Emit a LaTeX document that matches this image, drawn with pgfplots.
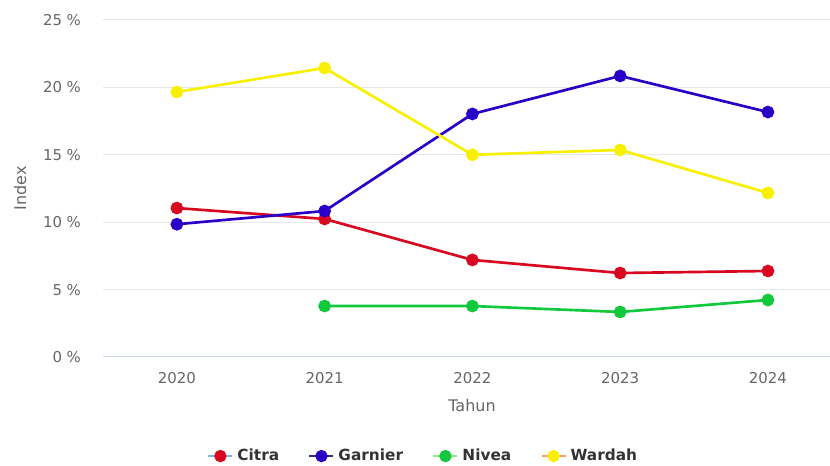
\documentclass[border=0pt]{standalone}
\usepackage{fontspec}
\setmainfont{DejaVu Sans}
\usepackage{pgfplots}
\pgfplotsset{compat=1.18}

\definecolor{citra}{HTML}{D7081F}
\definecolor{garnier}{HTML}{2A00C8}
\definecolor{nivea}{HTML}{12C83C}
\definecolor{wardah}{HTML}{F8F000}
\definecolor{lgcitra}{HTML}{7CB5EC}
\definecolor{lggarnier}{HTML}{2F2A80}
\definecolor{lgnivea}{HTML}{90ED7D}
\definecolor{lgwardah}{HTML}{F7A35C}
\definecolor{gridc}{HTML}{E6E6E6}
\definecolor{axisc}{HTML}{CCD6EB}
\definecolor{labc}{HTML}{666666}
\definecolor{legc}{HTML}{333333}

% 1 px = 0.75 pt
\newcommand{\legimg}[2]{%
  \draw[#1, line width=1.5pt] (0pt,0pt) -- (18pt,0pt);
  \fill[#2] (9pt,0pt) circle (3.6pt);}

\begin{document}
\begin{tikzpicture}
\begin{axis}[
  scale only axis,
  width=545.25pt, height=252.75pt,
  xmin=2019.5, xmax=2024.42,
  ymin=0, ymax=25,
  axis line style={draw=none},
  ymajorgrids, grid style={gridc, line width=0.75pt},
  xtick={2020,2021,2022,2023,2024},
  xticklabels={2020,2021,2022,2023,2024},
  ytick={0,5,10,15,20,25},
  yticklabels={0 \%,5 \%,10 \%,15 \%,20 \%,25 \%},
  major tick length=0pt,
  tick label style={font=\fontsize{11.2pt}{13pt}\selectfont, text=labc},
  xticklabel style={yshift=-8pt},
  yticklabel style={xshift=-13pt},
  xlabel={Tahun}, ylabel={Index},
  label style={font=\fontsize{12pt}{14pt}\selectfont, text=labc},
  xlabel style={at={(rel axis cs:0.5076,-0.145)}, anchor=center},
  ylabel style={at={(rel axis cs:-0.114,0.5)}, anchor=center},
  legend columns=4,
  legend style={at={(rel axis cs:0.441,-0.294)}, anchor=center, draw=none,
    fill=none, font=\bfseries\fontsize{11.5pt}{14pt}\selectfont, text=legc,
    /tikz/every odd column/.append style={column sep=1pt},
    /tikz/every even column/.append style={column sep=20pt}},
  every axis plot/.append style={line width=2pt, mark=*, mark size=3.75pt},
]
\draw[axisc, line width=0.75pt] (rel axis cs:0,0) -- (rel axis cs:1,0);
\coordinate (sw) at (rel axis cs:0,0);
\coordinate (ne) at (rel axis cs:1,1);

\addplot[citra, mark options={fill=citra}, legend image code/.code={\legimg{lgcitra}{citra}}]
  coordinates {(2020,11.05) (2021,10.24) (2022,7.2) (2023,6.23) (2024,6.38)};
\addlegendentry{Citra}
\addplot[garnier, mark options={fill=garnier}, legend image code/.code={\legimg{lggarnier}{garnier}}]
  coordinates {(2020,9.85) (2021,10.83) (2022,18.03) (2023,20.85) (2024,18.17)};
\addlegendentry{Garnier}
\addplot[nivea, mark options={fill=nivea}, legend image code/.code={\legimg{lgnivea}{nivea}}]
  coordinates {(2021,3.78) (2022,3.78) (2023,3.34) (2024,4.23)};
\addlegendentry{Nivea}
\addplot[wardah, mark options={fill=wardah}, legend image code/.code={\legimg{lgwardah}{wardah}}]
  coordinates {(2020,19.66) (2021,21.44) (2022,15.0) (2023,15.36) (2024,12.17)};
\addlegendentry{Wardah}
\end{axis}
\pgfresetboundingbox
\useasboundingbox ([shift={(-77.25pt,-81.75pt)}]sw) rectangle ([shift={(0pt,15pt)}]ne);
\end{tikzpicture}
\end{document}
